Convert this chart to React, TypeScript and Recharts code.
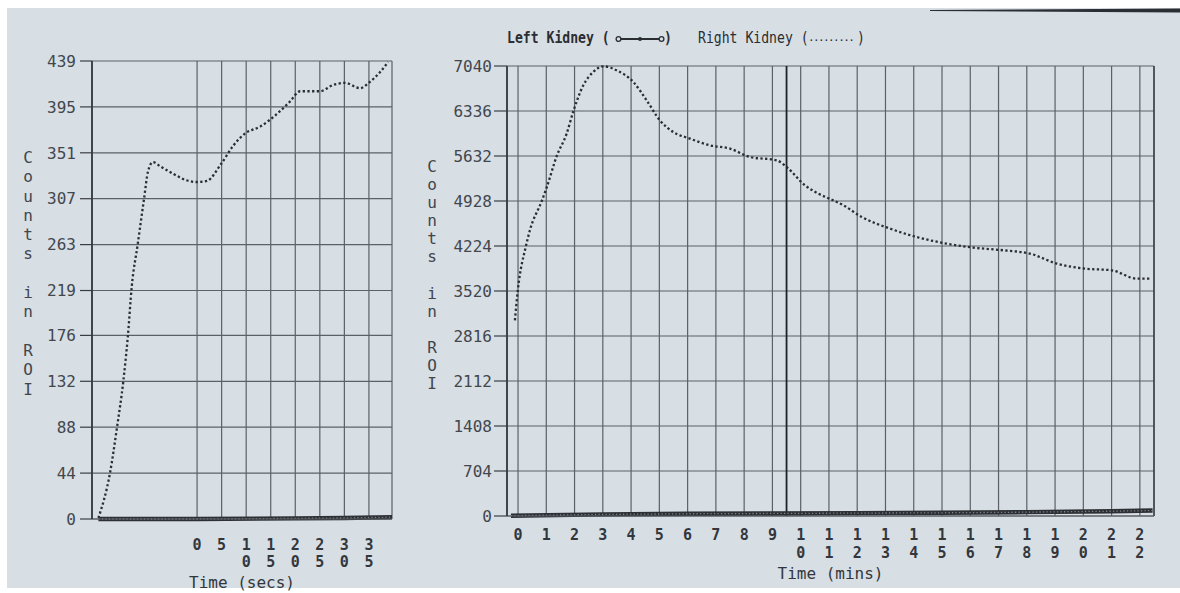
import React from 'react';
import { LineChart, Line, XAxis, YAxis, CartesianGrid, ReferenceLine, Label } from 'recharts';

// ---------- Left panel: first seconds ----------
const SECS_TICKS = [0, 5, 10, 15, 20, 25, 30, 35];
const SECS_DOMAIN = [-21.4, 39.7];
const SECS_COUNT_TICKS = [0, 44, 88, 132, 176, 219, 263, 307, 351, 395, 439];
const SECS_RIGHT_TIME = [-20.1, -17.7, -16.3, -15.0, -14.1, -13.3, -12.1, -10.8, -10.0, -9.0, -7.5, -4.9, -2.4, 0.0, 2.0, 4.7, 7.4, 9.9, 12.8, 16.2, 18.9, 21.0, 25.0, 27.7, 30.1, 33.2, 35.2, 37.2, 38.9];
const SECS_RIGHT_COUNTS = [1, 45, 88, 133, 175, 223, 263, 307, 333, 342, 338, 331, 325, 323, 324, 339, 358, 370, 376, 388, 400, 410, 410, 416, 418, 413, 419, 428, 438];
const SECS_LEFT_TIME = [-20.1, 0, 20, 30, 39.7];
const SECS_LEFT_COUNTS = [0, 0, 0.6, 1, 1.8];

// ---------- Right panel: minutes ----------
const MINS_TICKS = [0, 1, 2, 3, 4, 5, 6, 7, 8, 9, 10, 11, 12, 13, 14, 15, 16, 17, 18, 19, 20, 21, 22];
const MINS_DOMAIN = [-0.39, 22.5];
const MINS_COUNT_TICKS = [0, 704, 1408, 2112, 2816, 3520, 4224, 4928, 5632, 6336, 7040];
const MINS_RIGHT_TIME = [-0.11, -0.01, 0.28, 0.42, 0.84, 1.02, 1.37, 1.72, 1.96, 2.31, 2.66, 3.02, 3.49, 4.08, 4.55, 5.02, 5.49, 6.08, 6.79, 7.5, 8.21, 9.15, 9.5, 10.15, 10.62, 11.15, 11.51, 12.16, 13.16, 14.1, 15.16, 16.11, 17.17, 18.11, 19.06, 20.06, 21.0, 21.89, 22.42];
const MINS_RIGHT_COUNTS = [3061, 3520, 4224, 4470, 4928, 5147, 5632, 5982, 6336, 6738, 6946, 7035, 6973, 6790, 6503, 6190, 6007, 5904, 5799, 5748, 5616, 5565, 5460, 5174, 5044, 4939, 4861, 4678, 4496, 4365, 4261, 4199, 4157, 4105, 3949, 3870, 3844, 3714, 3714];
const MINS_LEFT_TIME = [-0.25, 3, 6, 9, 12, 15, 18, 21, 22.45];
const MINS_LEFT_COUNTS = [5, 25, 35, 40, 45, 50, 60, 75, 85];
const MARKER_MIN = 9.5;

const Y_TITLE = 'Counts in ROI';
const LEGEND_LEFT = 'Left Kidney (';
const LEGEND_RIGHT = 'Right Kidney (';

const zip = (ts: number[], vs: number[]) => ts.map((t, i) => ({ t, v: vs[i] }));

const MONO = "'DejaVu Sans Mono', 'Liberation Mono', monospace";
const INK = '#33373c';
const GRID = '#5b6167';
const BG = '#d7dee4';

const YTick = (p: any) => (
  <text x={p.x} y={p.y} dy="0.36em" textAnchor="end" fontFamily={MONO} fontSize={16} fill="#42474d">
    {p.payload.value}
  </text>
);

const makeXTick = (offset: number, gap: number) => (p: any) => {
  const chars = String(p.payload.value).split('');
  return (
    <g>
      {chars.map((c, i) => (
        <text key={i} x={p.x} y={p.y + offset + i * gap} dy="0.36em" textAnchor="middle" fontFamily={MONO} fontSize={15} fontWeight="bold" fill={INK}>
          {c}
        </text>
      ))}
    </g>
  );
};

const makeTitle = (text: string, dy: number) => (p: any) => {
  const vb = p.viewBox || {};
  return (
    <text x={vb.x + vb.width / 2} y={vb.y + dy} dy="0.36em" textAnchor="middle" fontFamily={MONO} fontSize={16} fill={INK}>
      {text}
    </text>
  );
};

const VerticalTitle = ({ left, top, gap }: { left: number; top: number; gap: number }) => (
  <div style={{ position: 'absolute', left, top, width: 20, fontFamily: MONO, fontSize: 16, color: '#41464c' }}>
    {Y_TITLE.split('').map((c, i) => (
      <div key={i} style={{ height: gap, lineHeight: gap + 'px', textAlign: 'center' }}>{c === ' ' ? '\u00a0' : c}</div>
    ))}
  </div>
);

const BeadLines = (data: any[]) => [
  <Line key="b1" data={data} dataKey="v" type="linear" stroke="#2c2f33" strokeWidth={4.4} dot={false} isAnimationActive={false} />,
  <Line key="b2" data={data} dataKey="v" type="linear" stroke="#7d848b" strokeWidth={1.3} strokeDasharray="1.3 2.2" dot={false} isAnimationActive={false} />,
];

const legendText = { display: 'inline-block', transform: 'scaleX(0.82)', transformOrigin: 'left center' } as const;

export default function App() {
  const secsRight = zip(SECS_RIGHT_TIME, SECS_RIGHT_COUNTS);
  const secsLeft = zip(SECS_LEFT_TIME, SECS_LEFT_COUNTS);
  const minsRight = zip(MINS_RIGHT_TIME, MINS_RIGHT_COUNTS);
  const minsLeft = zip(MINS_LEFT_TIME, MINS_LEFT_COUNTS);

  return (
    <div style={{ position: 'absolute', left: 0, top: 0, width: 1180, height: 593, background: '#ffffff', overflow: 'hidden' }}>
      <div style={{ position: 'absolute', left: 7, top: 8, width: 1173, height: 580, background: BG }} />
      <svg style={{ position: 'absolute', left: 0, top: 0 }} width={1180} height={20}>
        <polygon points="930,10 1180,8.5 1180,12.5 930,11" fill="#2a2d31" />
      </svg>

      {/* Legend */}
      <div style={{ position: 'absolute', left: 507, top: 28, height: 20, whiteSpace: 'nowrap', fontFamily: MONO, fontSize: 16, lineHeight: '20px', color: '#2a2d31' }}>
        <span style={{ ...legendText, fontWeight: 'bold', position: 'absolute', left: 0 }}>{LEGEND_LEFT}</span>
        <svg width={50} height={12} style={{ position: 'absolute', left: 108, top: 5 }}>
          <line x1={3} y1={6} x2={47} y2={6} stroke="#2a2d31" strokeWidth={2.2} />
          <circle cx={3.5} cy={6} r={2.4} fill={BG} stroke="#2a2d31" strokeWidth={1.3} />
          <circle cx={25} cy={6} r={2} fill="#2a2d31" />
          <circle cx={46.5} cy={6} r={2.4} fill={BG} stroke="#2a2d31" strokeWidth={1.3} />
        </svg>
        <span style={{ ...legendText, fontWeight: 'bold', position: 'absolute', left: 157 }}>)</span>
        <span style={{ ...legendText, position: 'absolute', left: 191 }}>{LEGEND_RIGHT}</span>
        <span style={{ position: 'absolute', left: 301, fontSize: 11, letterSpacing: '-1.6px', top: 0 }}>.........</span>
        <span style={{ ...legendText, position: 'absolute', left: 350 }}>)</span>
      </div>

      {/* Left panel */}
      <div style={{ position: 'absolute', left: 0, top: 0 }}>
        <LineChart width={400} height={593} margin={{ top: 61, right: 8, bottom: 14, left: 0 }}>
          <CartesianGrid stroke={GRID} strokeWidth={1.2} />
          <XAxis
            type="number"
            dataKey="t"
            domain={SECS_DOMAIN}
            ticks={SECS_TICKS}
            interval={0}
            height={60}
            tickSize={0}
            tickMargin={0}
            tickLine={false}
            axisLine={{ stroke: GRID, strokeWidth: 1.2 }}
            tick={makeXTick(26, 17)}
          >
            <Label content={makeTitle('Time (secs)', 63)} />
          </XAxis>
          <YAxis
            type="number"
            dataKey="v"
            domain={[0, 439]}
            ticks={SECS_COUNT_TICKS}
            interval={0}
            width={92}
            tickSize={12}
            tickMargin={4}
            tickLine={{ stroke: '#3a3e43', strokeWidth: 1.2 }}
            axisLine={{ stroke: '#2f3337', strokeWidth: 1.6 }}
            tick={YTick}
          />
          {BeadLines(secsLeft)}
          <Line data={secsRight} dataKey="v" type="monotone" stroke="#2b2e33" strokeWidth={2.3} strokeDasharray="2.3 2.4" dot={false} isAnimationActive={false} />
        </LineChart>
      </div>

      {/* Right panel */}
      <div style={{ position: 'absolute', left: 400, top: 0 }}>
        <LineChart width={780} height={593} margin={{ top: 66, right: 26, bottom: 17, left: 0 }}>
          <CartesianGrid stroke={GRID} strokeWidth={1.2} />
          <XAxis
            type="number"
            dataKey="t"
            domain={MINS_DOMAIN}
            ticks={MINS_TICKS}
            interval={0}
            height={60}
            tickSize={0}
            tickMargin={0}
            tickLine={false}
            axisLine={{ stroke: GRID, strokeWidth: 1.2 }}
            tick={makeXTick(19, 18)}
          >
            <Label content={makeTitle('Time (mins)', 57)} />
          </XAxis>
          <YAxis
            type="number"
            dataKey="v"
            domain={[0, 7040]}
            ticks={MINS_COUNT_TICKS}
            interval={0}
            width={107}
            tickSize={13}
            tickMargin={2}
            tickLine={{ stroke: '#3a3e43', strokeWidth: 1.2 }}
            axisLine={{ stroke: '#2f3337', strokeWidth: 1.6 }}
            tick={YTick}
          />
          <ReferenceLine x={MINS_DOMAIN[1]} stroke="#3a3e43" strokeWidth={1.4} />
          <ReferenceLine x={MARKER_MIN} stroke="#1f2226" strokeWidth={1.8} />
          {BeadLines(minsLeft)}
          <Line data={minsRight} dataKey="v" type="monotone" stroke="#2b2e33" strokeWidth={2.3} strokeDasharray="2.3 2.4" dot={false} isAnimationActive={false} />
        </LineChart>
      </div>

      <VerticalTitle left={18} top={148} gap={19.3} />
      <VerticalTitle left={422} top={158} gap={18.1} />
    </div>
  );
}
